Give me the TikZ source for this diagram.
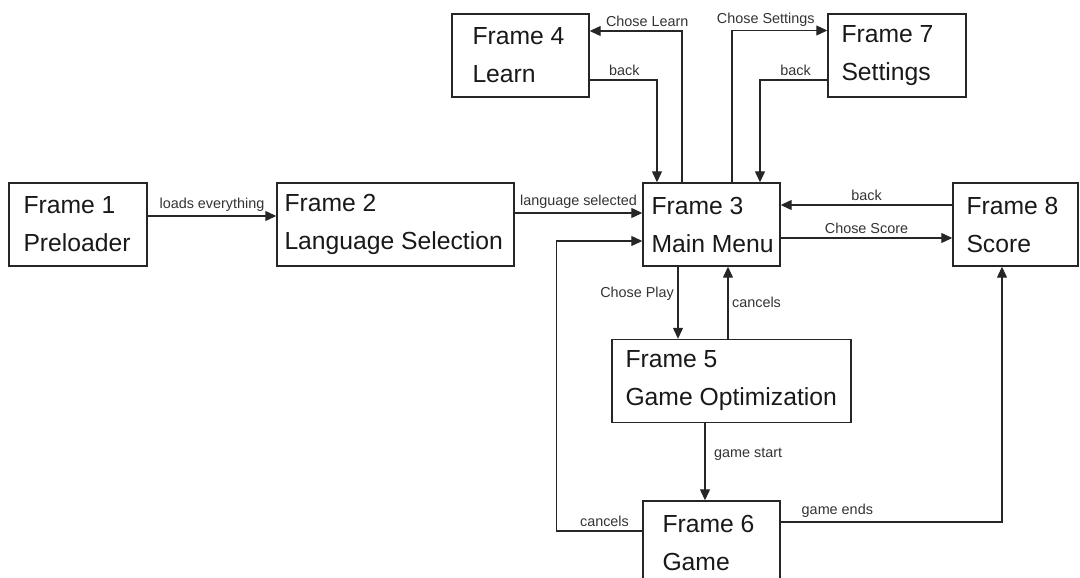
\documentclass[tikz,border=0pt]{standalone}
\usepackage{fontspec}
\setmainfont{Liberation Sans}
\usetikzlibrary{arrows.meta}

\tikzset{
  frame/.style={draw=black!85, line width=1.4pt, minimum height=83pt, inner sep=0pt},
  frametxt/.style={anchor=west, align=left, inner sep=0pt, text=black!90, font=\fontsize{24.7}{38}\selectfont},
  link/.style={draw=black!85, line width=1.2pt, -{Triangle[length=11pt,width=10pt]}},
  lbl/.style={font=\fontsize{14.4}{16}\selectfont, text=black!80, inner sep=3.5pt}
}

\begin{document}
\begin{tikzpicture}[x=1pt,y=-1pt]
    \clip (0,0) rectangle (1080,578);

    % Frames
    \node[frame, minimum width=138pt] (f1) at (78,224.5) {};
    \node[frame, minimum width=237pt] (f2) at (395.5,224.5) {};
    \node[frame, minimum width=137pt] (f3) at (711.5,224.5) {};
    \node[frame, minimum width=137pt] (f4) at (520.5,55.5) {};
    \node[frame, minimum width=239pt] (f5) at (731.5,381) {};
    \node[frame, minimum width=137pt] (f6) at (711.5,542.5) {};
    \node[frame, minimum width=138pt] (f7) at (897,55.5) {};
    \node[frame, minimum width=125pt] (f8) at (1015.5,224.5) {};

    \node[frametxt] (t1) at ([xshift=15pt]f1.west) {Frame 1\\Preloader};
    \node[frametxt] (t2) at ([xshift=8pt]f2.west) {Frame 2\\Language Selection};
    \node[frametxt] (t3) at ([xshift=9pt]f3.west) {Frame 3\\Main Menu};
    \node[frametxt] (t4) at ([xshift=21pt]f4.west) {Frame 4\\Learn};
    \node[frametxt] (t5) at ([xshift=14pt]f5.west) {Frame 5\\Game Optimization};
    \node[frametxt] (t6) at ([xshift=20pt]f6.west) {Frame 6\\Game};
    \node[frametxt] (t7) at ([xshift=14pt]f7.west) {Frame 7\\Settings};
    \node[frametxt] (t8) at ([xshift=14pt]f8.west) {Frame 8\\Score};

    % Start up
    \draw[link] ([yshift=8.5pt]f1.east) -- node[lbl, above] {loads everything} ([yshift=8.5pt]f2.west);
    \draw[link] ([yshift=11.5pt]f2.east) -- node[lbl, above] {language selected} ([yshift=11.5pt]f3.west);

    % Learn and settings
    \draw[link] ([xshift=-29.5pt]f3.north) |- node[lbl, above, pos=0.688] {Chose Learn} ([yshift=24.5pt]f4.east);
    \draw[link] ([yshift=-24.5pt]f4.east) -| node[lbl, above, pos=0.257] {back} ([xshift=-54.5pt]f3.north);
    \draw[link] ([xshift=20.5pt]f3.north) |- node[lbl, above, pos=0.677] {Chose Settings} ([yshift=25pt]f7.west);
    \draw[link] ([yshift=-24.5pt]f7.west) -| node[lbl, above, pos=0.235] {back} ([xshift=48.5pt]f3.north);

    % Score
    \draw[link] ([yshift=19.5pt]f8.west) -- node[lbl, above] {back} ([yshift=19.5pt]f3.east);
    \draw[link] ([yshift=-13.5pt]f3.east) -- node[lbl, above] {Chose Score} ([yshift=-13.5pt]f8.west);

    % Play
    \draw[link] ([xshift=-33.5pt]f3.south) -- node[lbl, left, pos=0.38] {Chose Play} ([xshift=-53.5pt]f5.north);
    \draw[link] ([xshift=-3.5pt]f5.north) -- node[lbl, right] {cancels} ([xshift=16.5pt]f3.south);
    \draw[link] ([xshift=-26.5pt]f5.south) -- node[lbl, right, pos=0.4, xshift=5pt] {game start} ([xshift=-6.5pt]f6.north);
    \draw[link] ([yshift=11.5pt]f6.west) -- node[lbl, above, pos=0.44] {cancels} ++(-86,0) |- ([yshift=-16.5pt]f3.west);
    \draw[link] ([yshift=20.5pt]f6.east) -| node[lbl, above, pos=0.128] {game ends} ([xshift=-13.5pt]f8.south);
\end{tikzpicture}
\end{document}
